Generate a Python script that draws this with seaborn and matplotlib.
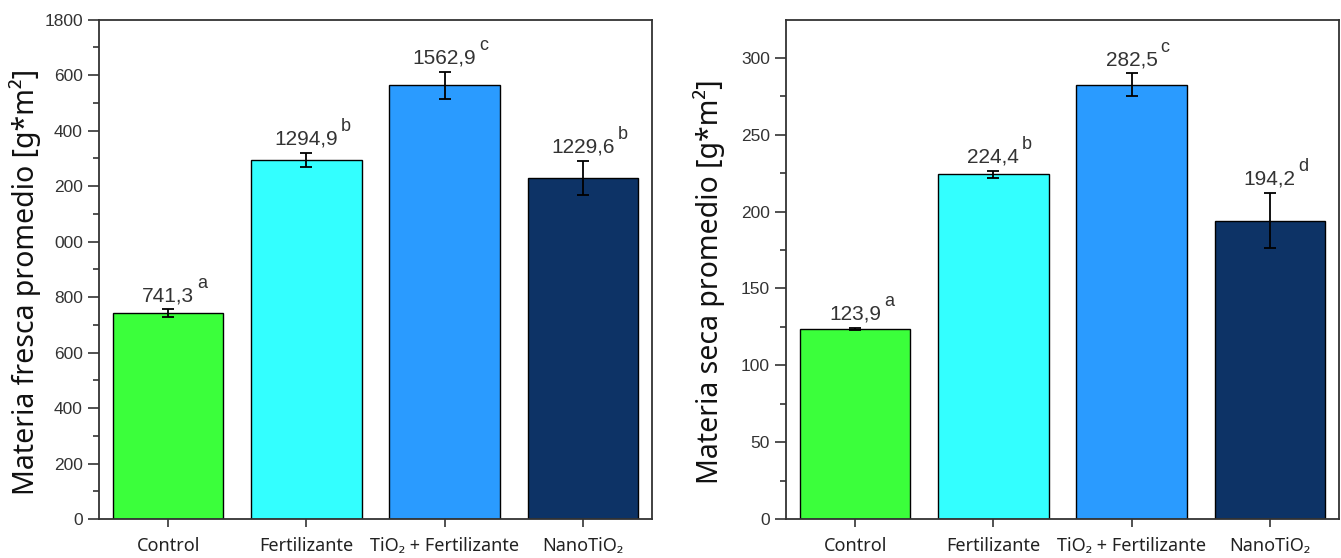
import matplotlib
matplotlib.use('Agg')
import matplotlib.pyplot as plt
import seaborn as sns

# Data
categories = ['Control', 'Fertilizante', 'TiO₂ + Fertilizante', 'NanoTiO₂']
colors = ['#3BFF3B', '#33FFFF', '#2A9BFF', '#0D3366']

fresca_mean = [741.3, 1294.9, 1562.9, 1229.6]
fresca_sd = [14, 25, 49, 61]
fresca_letters = ['a', 'b', 'c', 'b']
fresca_ticks = [0, 200, 400, 600, 800, 1000, 1200, 1400, 1600, 1800]
fresca_ticklabels = ['0', '200', '400', '600', '800', '000', '200', '400', '600', '1800']

seca_mean = [123.9, 224.4, 282.5, 194.2]
seca_sd = [0.6, 2.2, 7.5, 18]
seca_letters = ['a', 'b', 'c', 'd']
seca_ticks = [0, 50, 100, 150, 200, 250, 300]
seca_ticklabels = ['0', '50', '100', '150', '200', '250', '300']

sns.set_style('white')
narrow = ['Liberation Sans Narrow', 'Liberation Sans', 'DejaVu Sans']
label_font = ['Noto Sans', 'DejaVu Sans']

fig = plt.figure(figsize=(13.41, 5.58), dpi=100)
ax1 = fig.add_axes([0.0738, 0.0699, 0.4124, 0.895])
ax2 = fig.add_axes([0.5861, 0.0699, 0.4124, 0.895])


def draw_panel(ax, means, sds, letters, ticks, ticklabels, ymax, minor_step, ylabel, label_xy):
    sns.barplot(x=categories, y=means, hue=categories, palette=colors, legend=False,
                saturation=1, edgecolor='black', linewidth=1, width=0.8, errorbar=None, ax=ax)
    ax.errorbar(range(len(means)), means, yerr=sds, fmt='none', ecolor='black',
                elinewidth=1.3, capsize=4, capthick=1.3)
    ax.set_xlim(-0.5, 3.5)
    ax.set_ylim(0, ymax)
    ax.set_yticks(ticks)
    ax.set_yticklabels(ticklabels, family=narrow, fontsize=12.5, color='#333333')
    ax.set_yticks([t + minor_step for t in ticks if t + minor_step < ymax], minor=True)
    ax.set_xticks(range(len(categories)))
    ax.set_xticklabels(categories, family=label_font, fontsize=13, color='#222222')
    ax.tick_params(axis='y', which='major', direction='out', length=8, width=1.2, color='#333333', left=True)
    ax.tick_params(axis='y', which='minor', direction='out', length=4, width=1.2, color='#333333', left=True)
    ax.tick_params(axis='x', which='major', direction='out', length=6, width=1.2, color='#333333', bottom=True, pad=7)
    for s in ax.spines.values():
        s.set_visible(True)
        s.set_color('#333333')
        s.set_linewidth(1.3)
    ax.set_xlabel('')
    ax.set_ylabel(ylabel, family=label_font, fontsize=20.5, color='#111111')
    ax.yaxis.set_label_coords(*label_xy)

    # value labels with significance letters
    for i, (m, sd, letter) in enumerate(zip(means, sds, letters)):
        t = ax.annotate(f'{m:.1f}'.replace('.', ','), xy=(i, m + sd), xytext=(0, 3),
                        textcoords='offset points', ha='center', va='bottom',
                        family=narrow, fontsize=15, color='#333333')
        ax.annotate(letter, xy=(1, 1), xycoords=t, xytext=(2, 2), textcoords='offset points',
                    ha='left', va='center', family=narrow, fontsize=13, color='#333333')


draw_panel(ax1, fresca_mean, fresca_sd, fresca_letters, fresca_ticks, fresca_ticklabels,
           1800, 100, 'Materia fresca promedio [g*m²]', (-0.105, 0.475))
draw_panel(ax2, seca_mean, seca_sd, seca_letters, seca_ticks, seca_ticklabels,
           325, 25, 'Materia seca promedio [g*m²]', (-0.11, 0.475))

plt.savefig('out.png', dpi=100)
plt.close()
